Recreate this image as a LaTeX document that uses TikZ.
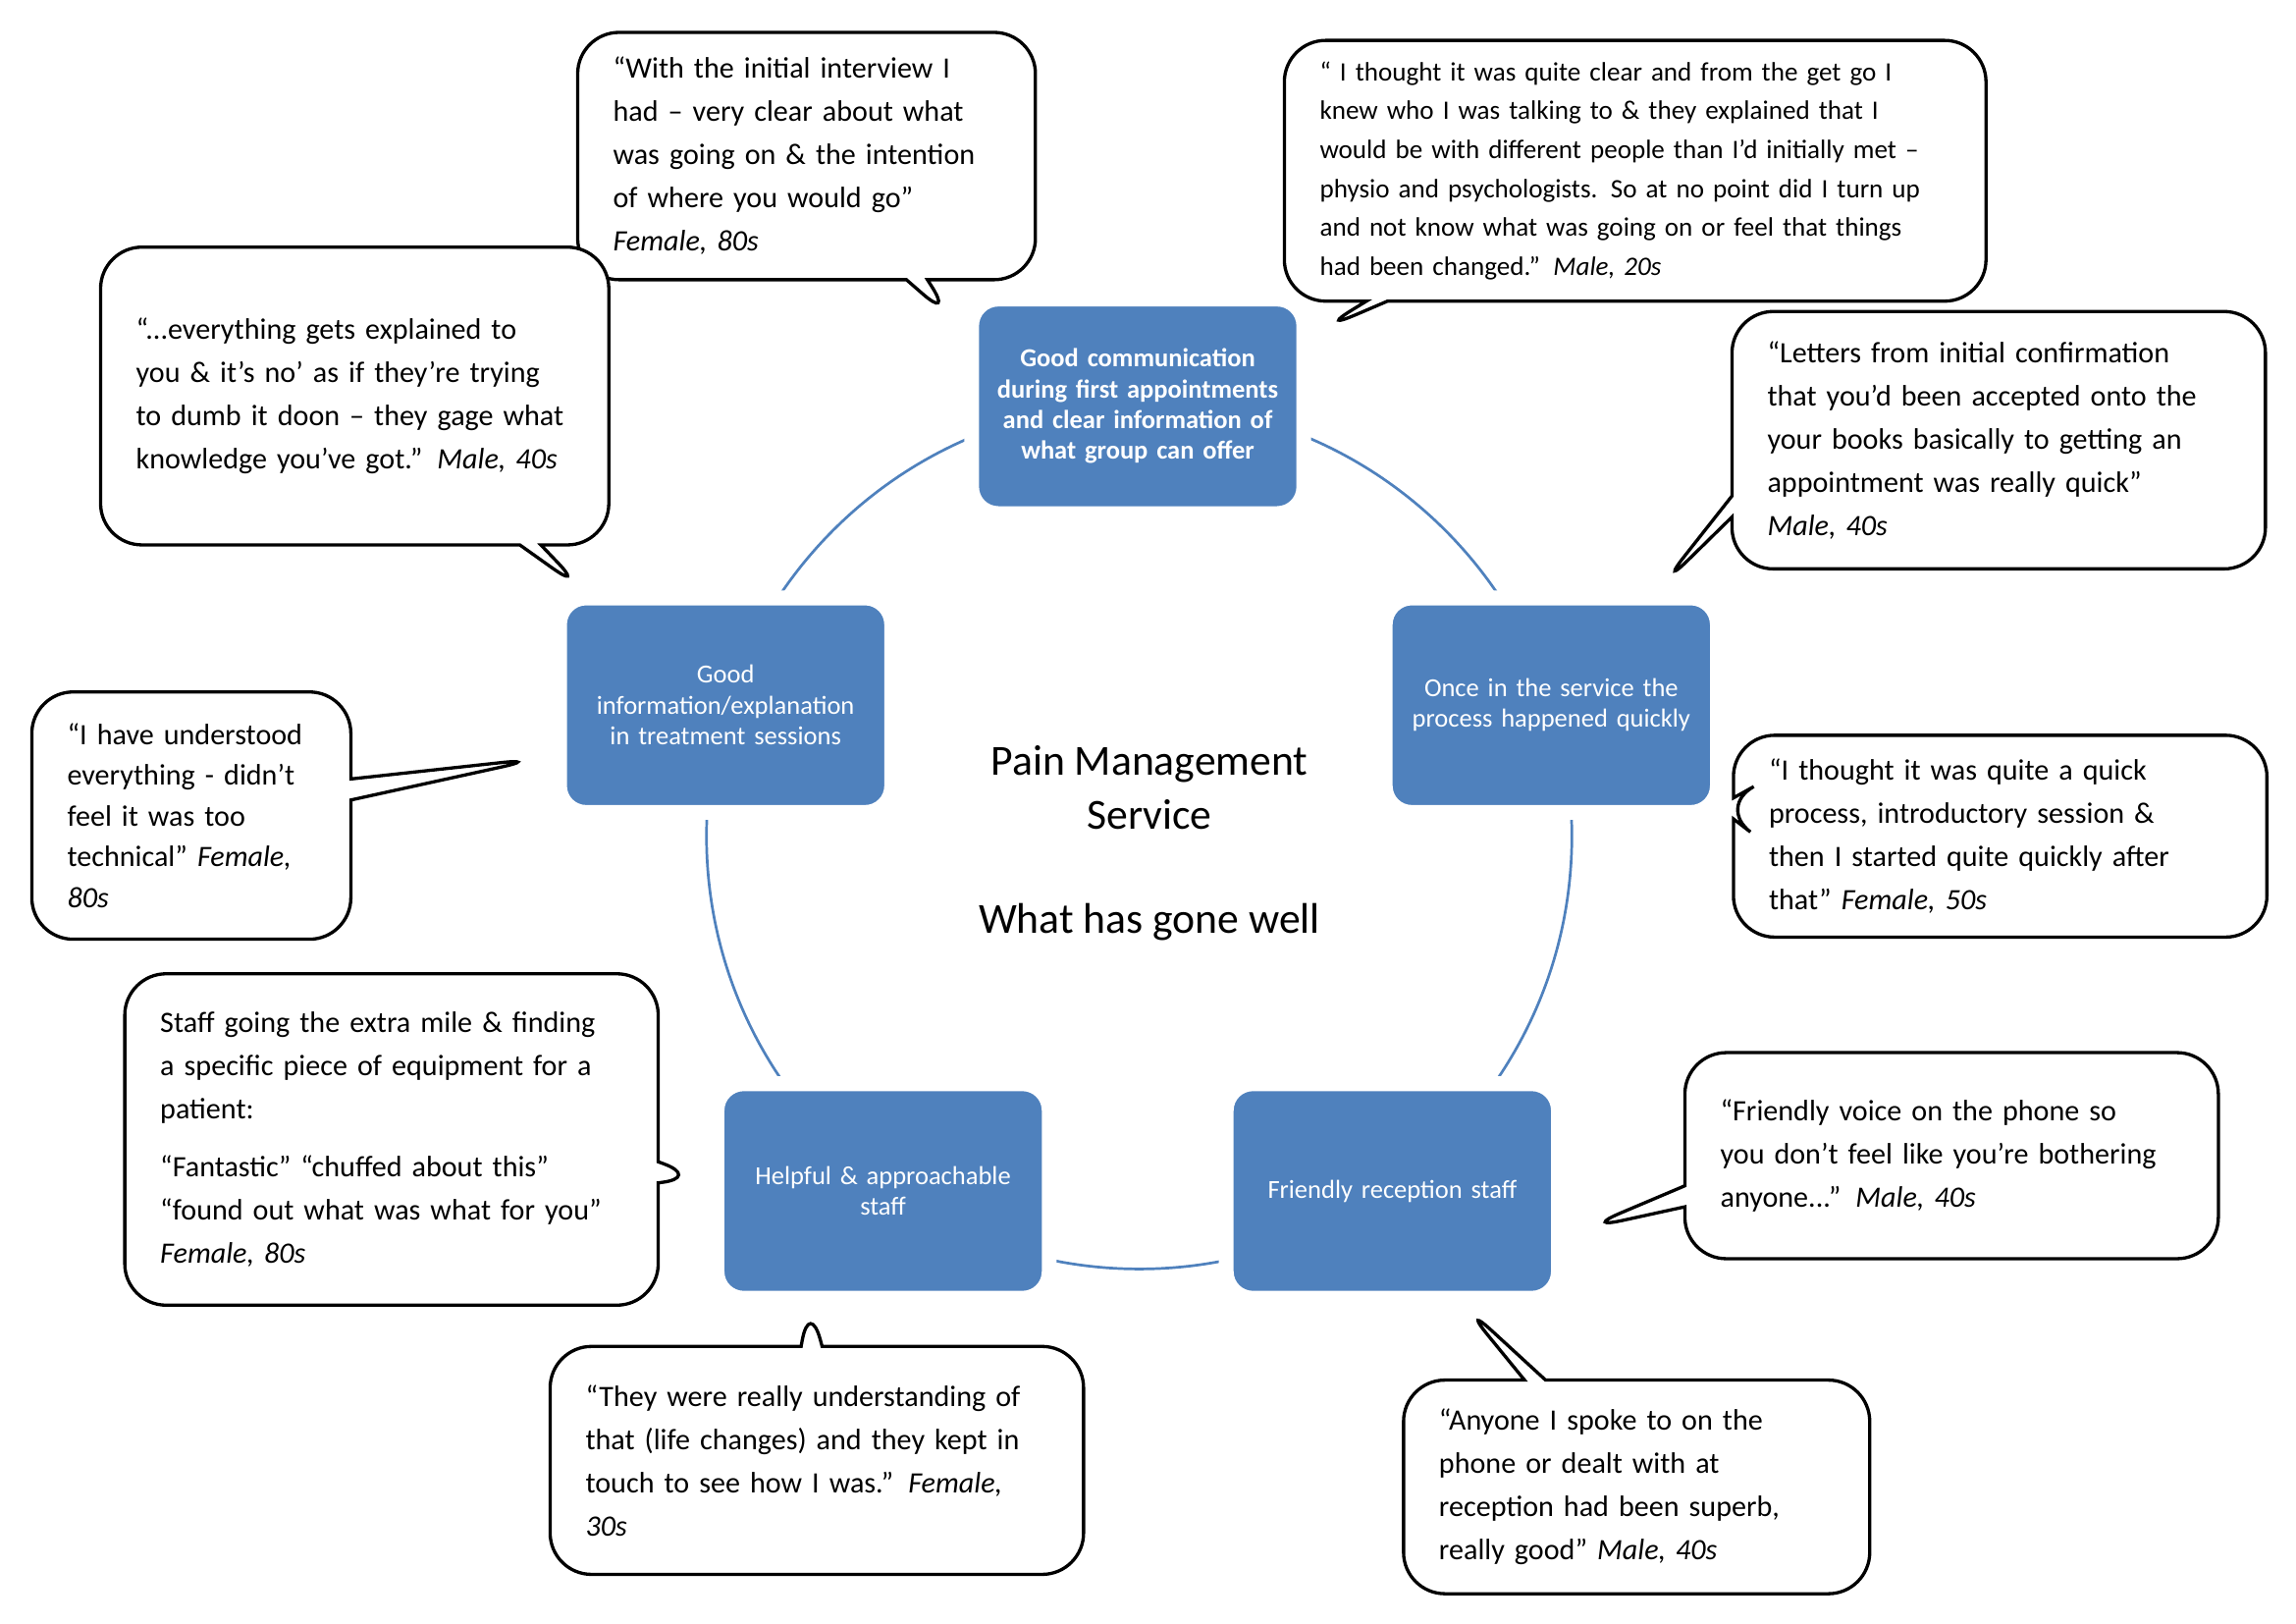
\documentclass[tikz,border=0pt]{standalone}
\usepackage{fontspec}
\setmainfont{Carlito}
\usetikzlibrary{shapes.callouts}
\definecolor{boxblue}{HTML}{4F81BD}
\tikzset{
  quote/.style={rectangle callout, draw, line width=1.1pt, rounded corners=14pt,
    fill=white, align=left, inner xsep=12pt, callout pointer width=0.25cm,
    font=\fontsize{10}{14.6}\selectfont},
  theme/.style={rectangle, rounded corners=9pt, fill=boxblue, draw=white,
    line width=5pt, minimum width=3.95cm, minimum height=2.55cm,
    text width=3.7cm, align=center, text=white,
    font=\fontsize{8.8}{10.4}\selectfont}
}
\begin{document}
\begin{tikzpicture}[x=0.0175cm, y=-0.0175cm]
\useasboundingbox (0,0) rectangle (1560,1103);

% ring
\node[circle, draw=boxblue, line width=0.9pt, minimum size=10.29cm] (ring) at (774,568) {};

% themes
\node[theme, font=\fontsize{8.8}{10.4}\selectfont\bfseries] (comm) at (773,276)
  {Good communication\\during first appointments\\and clear information of\\what group can offer};
\node[theme] (info) at (493,479) {Good\\information/explanation\\in treatment sessions};
\node[theme] (quick) at (1054,479) {Once in the service the\\process happened quickly};
\node[theme] (helpful) at (600,809) {Helpful \& approachable\\staff};
\node[theme] (friendly) at (946,809) {Friendly reception staff};

% centre
\node[font=\fontsize{14.5}{18}\selectfont, align=center] (title) at (781,535) {Pain Management\\Service};
\node[font=\fontsize{14.5}{18}\selectfont] (sub) at (781,626) {What has gone well};

% quotes
\node[quote, minimum width=5.25cm, minimum height=2.94cm, text width=4.6cm,
  callout absolute pointer={(648,218)}] (q1) at (548,106)
  {“With the initial interview I\\had – very clear about what\\was going on \& the intention\\of where you would go”\\\textit{Female, 80s}};
\node[quote, minimum width=8.17cm, minimum height=3.10cm, text width=7.5cm,
  font=\fontsize{9}{13.2}\selectfont,
  callout absolute pointer={(895,225)}] (q2) at (1111,116)
  {“ I thought it was quite clear and from the get go I\\knew who I was talking to \& they explained that I\\would be with different people than I’d initially met –\\physio and psychologists. So at no point did I turn up\\and not know what was going on or feel that things\\had been changed.” \textit{Male, 20s}};
\node[quote, minimum width=5.83cm, minimum height=3.54cm, text width=5.2cm,
  callout absolute pointer={(398,402)}] (q3) at (241,269)
  {“...everything gets explained to\\you \& it’s no’ as if they’re trying\\to dumb it doon – they gage what\\knowledge you’ve got.” \textit{Male, 40s}};
\node[quote, minimum width=6.13cm, minimum height=3.06cm, text width=5.5cm,
  callout absolute pointer={(1127,400)}] (q4) at (1358,299)
  {“Letters from initial confirmation\\that you’d been accepted onto the\\your books basically to getting an\\appointment was really quick”\\\textit{Male, 40s}};
\node[quote, minimum width=3.5cm, minimum height=2.94cm, text width=2.95cm,
  font=\fontsize{10}{13.8}\selectfont,
  callout absolute pointer={(368,515)}] (q5) at (130,554)
  {“I have understood\\everything - didn’t\\feel it was too\\technical” \textit{Female,}\\\textit{80s}};
\node[quote, minimum width=6.09cm, minimum height=2.40cm, text width=5.5cm,
  callout absolute pointer={(1167,548)}] (q6) at (1359,568)
  {“I thought it was quite a quick\\process, introductory session \&\\then I started quite quickly after\\that” \textit{Female, 50s}};
\node[quote, minimum width=6.07cm, minimum height=3.94cm, text width=5.5cm,
  callout absolute pointer={(477,800)}] (q7) at (266,774)
  {Staff going the extra mile \& finding\\a specific piece of equipment for a\\patient:\\[5pt]“Fantastic” “chuffed about this”\\“found out what was what for you”\\\textit{Female, 80s}};
\node[quote, minimum width=6.07cm, minimum height=2.45cm, text width=5.5cm,
  callout absolute pointer={(1075,835)}] (q8) at (1326,785)
  {“Friendly voice on the phone so\\you don’t feel like you’re bothering\\anyone...” \textit{Male, 40s}};
\node[quote, minimum width=6.06cm, minimum height=2.71cm, text width=5.5cm,
  callout absolute pointer={(550,883)}] (q9) at (555,992)
  {“They were really understanding of\\that (life changes) and they kept in\\touch to see how I was.” \textit{Female,}\\\textit{30s}};
\node[quote, minimum width=5.34cm, minimum height=2.54cm, text width=4.7cm,
  callout absolute pointer={(993,885)}] (q10) at (1112,1010)
  {“Anyone I spoke to on the\\phone or dealt with at\\reception had been superb,\\really good” \textit{Male, 40s}};
\end{tikzpicture}
\end{document}
